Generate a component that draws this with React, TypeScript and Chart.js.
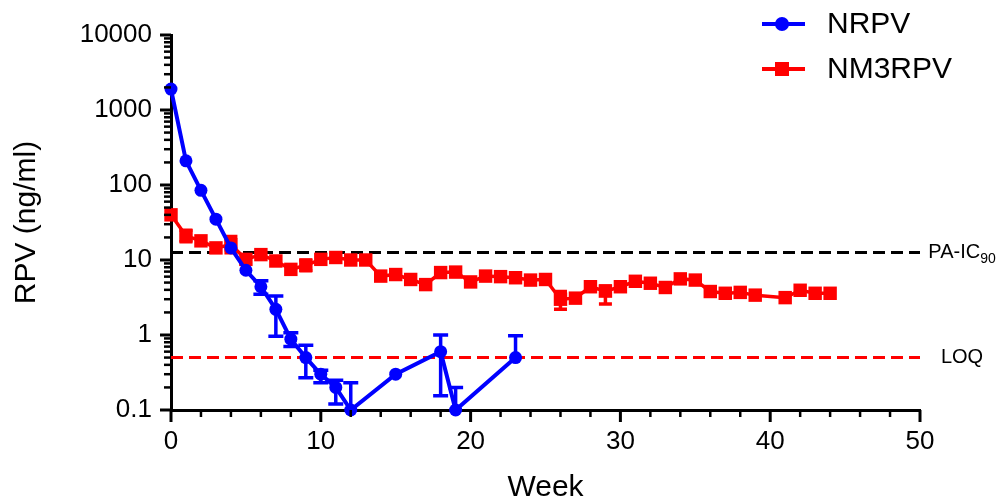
import React, { useEffect, useRef } from 'react';
import { Chart, registerables } from 'chart.js';

Chart.register(...registerables);

const FONT = "'Liberation Sans', Arial, Helvetica, sans-serif";
const BLUE = '#0000FF';
const RED = '#FF0000';

// NRPV series (weeks, values, error bars)
const nrpvWeeks = [0, 1, 2, 3, 4, 5, 6, 7, 8, 9, 10, 11, 12, 15, 18, 19, 23];
const nrpvValues = [1900, 210, 85, 35, 14.5, 7.3, 4.4, 2.2, 0.88, 0.5, 0.3, 0.2, 0.1, 0.3, 0.6, 0.1, 0.5];
const nrpvErrLow = [null, null, null, null, null, null, 3.5, 0.96, 0.7, 0.27, 0.23, 0.12, null, null, 0.155, null, null];
const nrpvErrHigh = [null, null, null, null, null, null, 5.3, 3.3, 1.07, 0.73, 0.34, 0.25, 0.23, null, 1.0, 0.2, 0.98];

// NM3RPV series
const nm3Weeks = [0, 1, 2, 3, 4, 5, 6, 7, 8, 9, 10, 11, 12, 13, 14, 15, 16, 17, 18, 19, 20, 21, 22, 23, 24, 25, 26, 27, 28, 29, 30, 31, 32, 33, 34, 35, 36, 37, 38, 39, 41, 42, 43, 44];
const nm3Values = [40, 21, 18, 14.5, 16, 10.2, 11.8, 9.7, 7.5, 8.5, 10.2, 10.8, 10, 10, 6.1, 6.4, 5.5, 4.7, 6.8, 6.9, 5.1, 6.1, 6.0, 5.8, 5.4, 5.5, 3.0, 3.1, 4.4, 3.85, 4.4, 5.2, 4.9, 4.3, 5.6, 5.4, 3.8, 3.6, 3.7, 3.4, 3.15, 3.95, 3.6, 3.6];
const nm3ErrLow = nm3Weeks.map((w) => ({ 1: 17.5, 4: 12.5, 9: 7.2, 26: 2.2, 29: 2.6 } as Record<number, number>)[w] ?? null);
const nm3ErrHigh = nm3Weeks.map((w) => ({ 1: 25, 4: 20.5, 9: 10, 26: 3.8, 29: 4.5 } as Record<number, number>)[w] ?? null);

// Reference levels
const paIc90 = 12.6;
const loq = 0.5;
const refRange = [0, 50];

// Axis ticks
const xMajorTicks = [0, 10, 20, 30, 40, 50];
const xMinorStep = 2;
const yDecades = [0.1, 1, 10, 100, 1000, 10000];
const yTickLabels = ['0.1', '1', '10', '100', '1000', '10000'];

export default function App() {
  const ref = useRef<HTMLCanvasElement>(null);

  useEffect(() => {
    const canvas = ref.current;
    if (!canvas) return;

    const pts = (xs: number[], ys: number[]) => xs.map((x, i) => ({ x, y: ys[i] }));

    const errorBars: Record<number, { low: (number | null)[]; high: (number | null)[]; cap: number; color: string }> = {
      0: { low: nrpvErrLow, high: nrpvErrHigh, cap: 15, color: BLUE },
      1: { low: nm3ErrLow, high: nm3ErrHigh, cap: 13, color: RED },
    };

    const plugin = {
      id: 'custom',
      beforeDatasetDraw(chart: any, args: any) {
        const eb = errorBars[args.index];
        if (!eb) return;
        const ys = chart.scales.y;
        const ctx = chart.ctx;
        ctx.save();
        ctx.strokeStyle = eb.color;
        ctx.lineWidth = 3.5;
        args.meta.data.forEach((pt: any, i: number) => {
          const lo = eb.low[i];
          const hi = eb.high[i];
          if (lo == null && hi == null) return;
          const x = pt.x;
          const yLo = lo != null ? ys.getPixelForValue(lo) : pt.y;
          const yHi = hi != null ? ys.getPixelForValue(hi) : pt.y;
          ctx.beginPath();
          ctx.moveTo(x, yLo);
          ctx.lineTo(x, yHi);
          if (lo != null) {
            ctx.moveTo(x - eb.cap / 2, yLo);
            ctx.lineTo(x + eb.cap / 2, yLo);
          }
          if (hi != null) {
            ctx.moveTo(x - eb.cap / 2, yHi);
            ctx.lineTo(x + eb.cap / 2, yHi);
          }
          ctx.stroke();
        });
        ctx.restore();
      },
      afterDraw(chart: any) {
        const ctx = chart.ctx;
        const xs = chart.scales.x;
        const ys = chart.scales.y;
        const area = chart.chartArea;
        ctx.save();
        ctx.strokeStyle = '#000';
        // x ticks
        for (let w = 0; w <= 50; w += xMinorStep) {
          const px = xs.getPixelForValue(w);
          const major = xMajorTicks.includes(w);
          ctx.lineWidth = major ? 3 : 2.5;
          ctx.beginPath();
          ctx.moveTo(px, area.bottom);
          ctx.lineTo(px, area.bottom + (major ? 12 : 7));
          ctx.stroke();
        }
        // y ticks
        yDecades.forEach((d, di) => {
          const py = ys.getPixelForValue(d);
          ctx.lineWidth = 3;
          ctx.beginPath();
          ctx.moveTo(area.left, py);
          ctx.lineTo(area.left - 11, py);
          ctx.stroke();
          if (di < yDecades.length - 1) {
            for (let m = 2; m <= 9; m++) {
              const pm = ys.getPixelForValue(d * m);
              ctx.lineWidth = 2.5;
              ctx.beginPath();
              ctx.moveTo(area.left, pm);
              ctx.lineTo(area.left - 7, pm);
              ctx.stroke();
            }
          }
        });

        // reference labels
        ctx.fillStyle = '#000';
        ctx.textBaseline = 'middle';
        const cx = area.right + 42;
        const yPa = ys.getPixelForValue(paIc90);
        ctx.font = `20px ${FONT}`;
        const w1 = ctx.measureText('PA-IC').width;
        ctx.font = `14px ${FONT}`;
        const w2 = ctx.measureText('90').width;
        const start = cx - (w1 + w2) / 2;
        ctx.font = `20px ${FONT}`;
        ctx.textAlign = 'left';
        ctx.fillText('PA-IC', start, yPa);
        ctx.font = `14px ${FONT}`;
        ctx.fillText('90', start + w1, yPa + 7);
        ctx.font = `20px ${FONT}`;
        ctx.textAlign = 'center';
        ctx.fillText('LOQ', cx, ys.getPixelForValue(loq));

        // legend
        const items = [
          { label: chart.data.datasets[0].label, color: BLUE, style: 'circle', y: 24 },
          { label: chart.data.datasets[1].label, color: RED, style: 'rect', y: 69 },
        ];
        items.forEach((it) => {
          ctx.strokeStyle = it.color;
          ctx.fillStyle = it.color;
          ctx.lineWidth = 4;
          ctx.beginPath();
          ctx.moveTo(762, it.y);
          ctx.lineTo(805, it.y);
          ctx.stroke();
          if (it.style === 'circle') {
            ctx.beginPath();
            ctx.arc(782, it.y, 7, 0, Math.PI * 2);
            ctx.fill();
          } else {
            ctx.fillRect(775, it.y - 7, 14, 14);
          }
          ctx.fillStyle = '#000';
          ctx.font = `30px ${FONT}`;
          ctx.textAlign = 'left';
          ctx.textBaseline = 'middle';
          ctx.fillText(it.label, 827, it.y + 1);
        });
        ctx.restore();
      },
    };

    const chart = new Chart(canvas, {
      type: 'line',
      data: {
        datasets: [
          {
            label: 'NRPV',
            data: pts(nrpvWeeks, nrpvValues),
            borderColor: BLUE,
            backgroundColor: BLUE,
            borderWidth: 4,
            pointStyle: 'circle',
            pointRadius: 6.5,
            pointBorderWidth: 0,
            pointBackgroundColor: BLUE,
            tension: 0,
            clip: false,
          },
          {
            label: 'NM3RPV',
            data: pts(nm3Weeks, nm3Values),
            borderColor: RED,
            backgroundColor: RED,
            borderWidth: 3.5,
            pointStyle: 'rect',
            pointRadius: 9.5,
            pointBorderWidth: 0,
            pointBackgroundColor: RED,
            tension: 0,
            clip: false,
          },
          {
            label: 'PA-IC90',
            data: refRange.map((x) => ({ x, y: paIc90 })),
            borderColor: '#000',
            borderWidth: 3,
            borderDash: [12, 6],
            pointRadius: 0,
            clip: false,
          },
          {
            label: 'LOQ',
            data: refRange.map((x) => ({ x, y: loq })),
            borderColor: RED,
            borderWidth: 3,
            borderDash: [12, 6],
            pointRadius: 0,
            clip: false,
          },
        ],
      } as any,
      options: {
        responsive: false,
        animation: false,
        events: [],
        layout: { padding: { top: 35, right: 79, left: 0, bottom: 0 } },
        plugins: { legend: { display: false }, tooltip: { enabled: false } },
        scales: {
          x: {
            type: 'linear',
            min: 0,
            max: 50,
            afterBuildTicks: (s: any) => {
              s.ticks = xMajorTicks.map((v) => ({ value: v }));
            },
            ticks: { font: { family: FONT, size: 26 }, color: '#000', padding: 4, maxRotation: 0 },
            grid: { drawOnChartArea: false, tickLength: 12, tickColor: 'rgba(0,0,0,0)' },
            border: { color: '#000', width: 3 },
            title: {
              display: true,
              text: 'Week',
              color: '#000',
              font: { family: FONT, size: 30, lineHeight: 1 },
              padding: { top: 0, bottom: 1 },
            },
            afterFit: (s: any) => {
              s.height = 94;
            },
          },
          y: {
            type: 'logarithmic',
            min: 0.1,
            max: 10000,
            afterBuildTicks: (s: any) => {
              s.ticks = yDecades.map((v) => ({ value: v }));
            },
            ticks: {
              font: { family: FONT, size: 26 },
              color: '#000',
              padding: 7,
              callback: (v: any) => {
                const i = yDecades.findIndex((d) => Math.abs(d - Number(v)) < 1e-9 * Math.max(1, d));
                return i >= 0 ? yTickLabels[i] : '';
              },
            },
            grid: { drawOnChartArea: false, tickLength: 12, tickColor: 'rgba(0,0,0,0)' },
            border: { color: '#000', width: 3 },
            title: {
              display: true,
              text: 'RPV (ng/ml)',
              color: '#000',
              font: { family: FONT, size: 30, lineHeight: 1.2 },
              padding: { top: 9, bottom: 0 },
            },
            afterFit: (s: any) => {
              s.width = 171;
            },
          },
        },
      } as any,
      plugins: [plugin],
    });

    return () => chart.destroy();
  }, []);

  return (
    <div style={{ position: 'fixed', left: 0, top: 0, width: 999, height: 504, background: '#fff' }}>
      <canvas ref={ref} width={999} height={504} style={{ width: 999, height: 504, display: 'block' }} />
    </div>
  );
}
